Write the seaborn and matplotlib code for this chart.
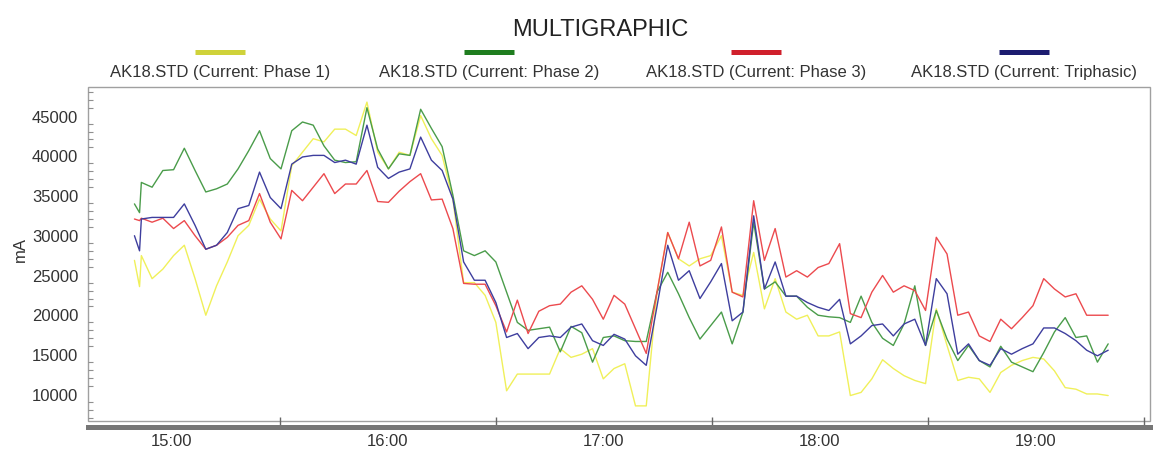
import numpy as np
import pandas as pd
import matplotlib
matplotlib.use("Agg")
import matplotlib.pyplot as plt
import matplotlib.dates as mdates
from matplotlib.lines import Line2D
from matplotlib.ticker import MultipleLocator
import seaborn as sns

# ---- data -----------------------------------------------------------------
DAY = "2024-03-12 "
lead_times = ["14:49:40", "14:51:05"]          # two readings before the regular log starts
sample_start = "14:51:35"
sample_step = "179s"
n_samples = 91

phase1 = [26800, 23500,
          27400, 24500, 25700, 27400, 28700, 24500, 19900, 23600, 26600, 29900,
          31200, 34500, 32000, 30500, 38700, 40400, 42100, 41700, 43300, 43300,
          42500, 46700, 40400, 38300, 40400, 40000, 45000, 42100, 40000, 34500,
          24000, 24000, 22400, 19000, 10400, 12500, 12500, 12500, 12500, 15700,
          14600, 15000, 15700, 11900, 13200, 13800, 8500, 8500, 22800, 30300,
          27000, 26100, 27000, 27400, 29900, 22800, 22400, 27800, 20700, 24500,
          20300, 19400, 19900, 17300, 17300, 17800, 9800, 10200, 11900, 14300,
          13200, 12300, 11700, 11300, 20700, 16100, 11700, 12100, 11900, 10200,
          12700, 13600, 14200, 14600, 14400, 12900, 10800, 10600, 10000, 10000,
          9800]

phase2 = [33900, 32800,
          36600, 36000, 38100, 38200, 40900, 38100, 35400, 35800, 36400, 38300,
          40600, 43100, 39600, 38300, 43100, 44200, 43800, 41200, 39400, 39100,
          39200, 46000, 40800, 38300, 40200, 40000, 45800, 43400, 41100, 35000,
          28000, 27400, 28000, 26600, 22800, 19000, 18000, 18200, 18400, 15300,
          18500, 17700, 14000, 17100, 17300, 16700, 16600, 16600, 22800, 25300,
          22600, 19600, 16900, 18600, 20300, 16300, 20300, 31600, 23200, 24100,
          22300, 22300, 20900, 19900, 19700, 19600, 19000, 22300, 19000, 17000,
          16100, 18800, 23600, 16100, 20500, 16900, 14200, 16100, 14200, 13400,
          16000, 14000, 13400, 12800, 15200, 17800, 19600, 17100, 17300, 14000,
          16300]

phase3 = [32000, 31800,
          32100, 31600, 32100, 30800, 31800, 29900, 28200, 28700, 29700, 31200,
          31800, 35200, 31600, 29500, 35600, 34300, 36000, 37700, 35200, 36400,
          36400, 38100, 34200, 34100, 35500, 36700, 37700, 34400, 34500, 30800,
          23900, 23800, 23800, 21100, 17800, 21800, 17600, 20400, 21100, 21300,
          22800, 23600, 21900, 19400, 22400, 21300, 18200, 15100, 22800, 30300,
          27000, 31600, 26100, 26800, 31000, 22800, 22200, 34300, 26800, 30800,
          24700, 25500, 24700, 25900, 26400, 28900, 20100, 19600, 22800, 24900,
          22800, 23600, 23000, 20500, 29700, 27600, 19900, 20300, 17300, 16600,
          19400, 18200, 19600, 21100, 24500, 23200, 22200, 22600, 19900, 19900,
          19900]

triphasic = [29900, 28000,
             32000, 32200, 32200, 32200, 33900, 31200, 28200, 28700, 30300, 33300,
             33700, 37900, 34700, 33300, 38900, 39800, 40000, 40000, 39100, 39400,
             38900, 43800, 38500, 37100, 37900, 38300, 42300, 39400, 38100, 34500,
             26600, 24300, 24300, 21500, 17100, 17600, 15700, 17100, 17300, 17100,
             18400, 18800, 16700, 16100, 17500, 16900, 14800, 13600, 21000, 28700,
             24300, 25500, 22000, 24100, 26400, 19200, 20300, 32400, 23200, 26600,
             22300, 22300, 21500, 20900, 20500, 21900, 16300, 17300, 18600, 18800,
             17300, 18800, 19400, 16100, 24500, 22600, 15000, 16300, 14200, 13600,
             15700, 15000, 15700, 16300, 18300, 18300, 17600, 16700, 15500, 14800,
             15500]

series_names = ["AK18.STD (Current: Phase 1)", "AK18.STD (Current: Phase 2)",
                "AK18.STD (Current: Phase 3)", "AK18.STD (Current: Triphasic)"]
y_ticks = [10000, 15000, 20000, 25000, 30000, 35000, 40000, 45000]
title = "MULTIGRAPHIC"
y_label = "mA"

# ---- styling ----------------------------------------------------------------
line_colors = ["#f0f05a", "#4a9c4a", "#ec4a4e", "#3e3e9e"]
swatch_colors = ["#cfd23a", "#1f7d1f", "#d0202c", "#1c1c70"]

sns.set_style("white")
plt.rcParams["font.family"] = ["Liberation Sans", "DejaVu Sans"]

times = pd.to_datetime([DAY + t for t in lead_times]).append(
    pd.date_range(DAY + sample_start, periods=n_samples, freq=sample_step))

values = [phase1, phase2, phase3, triphasic]
df = pd.DataFrame({
    "time": np.tile(times.values, len(series_names)),
    "mA": np.concatenate(values),
    "series": np.repeat(series_names, len(times)),
})

W, H = 1157, 452
fig = plt.figure(figsize=(W / 100, H / 100), dpi=100)
ax = fig.add_axes([88 / W, 1 - 422 / H, (1150 - 88) / W, (422 - 88) / H])

sns.lineplot(data=df, x="time", y="mA", hue="series", hue_order=series_names,
             palette=dict(zip(series_names, line_colors)), estimator=None,
             sort=False, linewidth=1.0, legend=False, ax=ax)

# axes ranges
ax.set_xlim(pd.Timestamp(DAY + "14:36:46"), pd.Timestamp(DAY + "19:31:42"))
ax.set_ylim(6600, 48600)

# frame: thin grey box plus a heavy time axis just below it
for side in ("top", "right", "left"):
    ax.spines[side].set_visible(False)
ax.patch.set_edgecolor("#a0a0a0")
ax.patch.set_linewidth(1.0)
ax.spines["bottom"].set_position(("outward", 4.3))
ax.spines["bottom"].set_linewidth(3.6)
ax.spines["bottom"].set_color("#767676")

# y axis
ax.set_yticks(y_ticks)
ax.yaxis.set_minor_locator(MultipleLocator(1000))
ax.tick_params(axis="y", which="major", direction="out", length=5, width=1,
               color="#808080", labelsize=12, labelcolor="#333333", pad=2)
ax.tick_params(axis="y", which="minor", direction="in", length=3.5, width=0.8,
               color="#909090", left=True)
ax.set_ylabel("")
fig.text(20 / W, 1 - 250 / H, y_label, rotation=90, ha="center", va="center",
         fontsize=12, color="#333333")

# x axis
ax.xaxis.set_major_locator(mdates.HourLocator())
ax.xaxis.set_minor_locator(mdates.MinuteLocator(byminute=[30]))
ax.xaxis.set_major_formatter(mdates.DateFormatter("%H:%M"))
ax.tick_params(axis="x", which="major", direction="in", length=11, width=1,
               color="#555555", labelsize=12, labelcolor="#333333", pad=4)
ax.tick_params(axis="x", which="minor", direction="in", length=7, width=1,
               color="#666666", bottom=True)
ax.set_xlabel("")

# title
fig.text(600 / W, 1 - 30 / H, title, ha="center", va="center", fontsize=17,
         color="#222222")

# legend: colour swatch above each series name
legend_x = [220, 489, 756, 1024]
for cx, name, col in zip(legend_x, series_names, swatch_colors):
    fig.add_artist(Line2D([(cx - 25) / W, (cx + 25) / W], [1 - 53 / H] * 2,
                          color=col, linewidth=3.6, solid_capstyle="butt"))
    fig.text(cx / W, 1 - 73 / H, name, ha="center", va="center", fontsize=12,
             color="#333333")

fig.savefig("out.png", dpi=100)
